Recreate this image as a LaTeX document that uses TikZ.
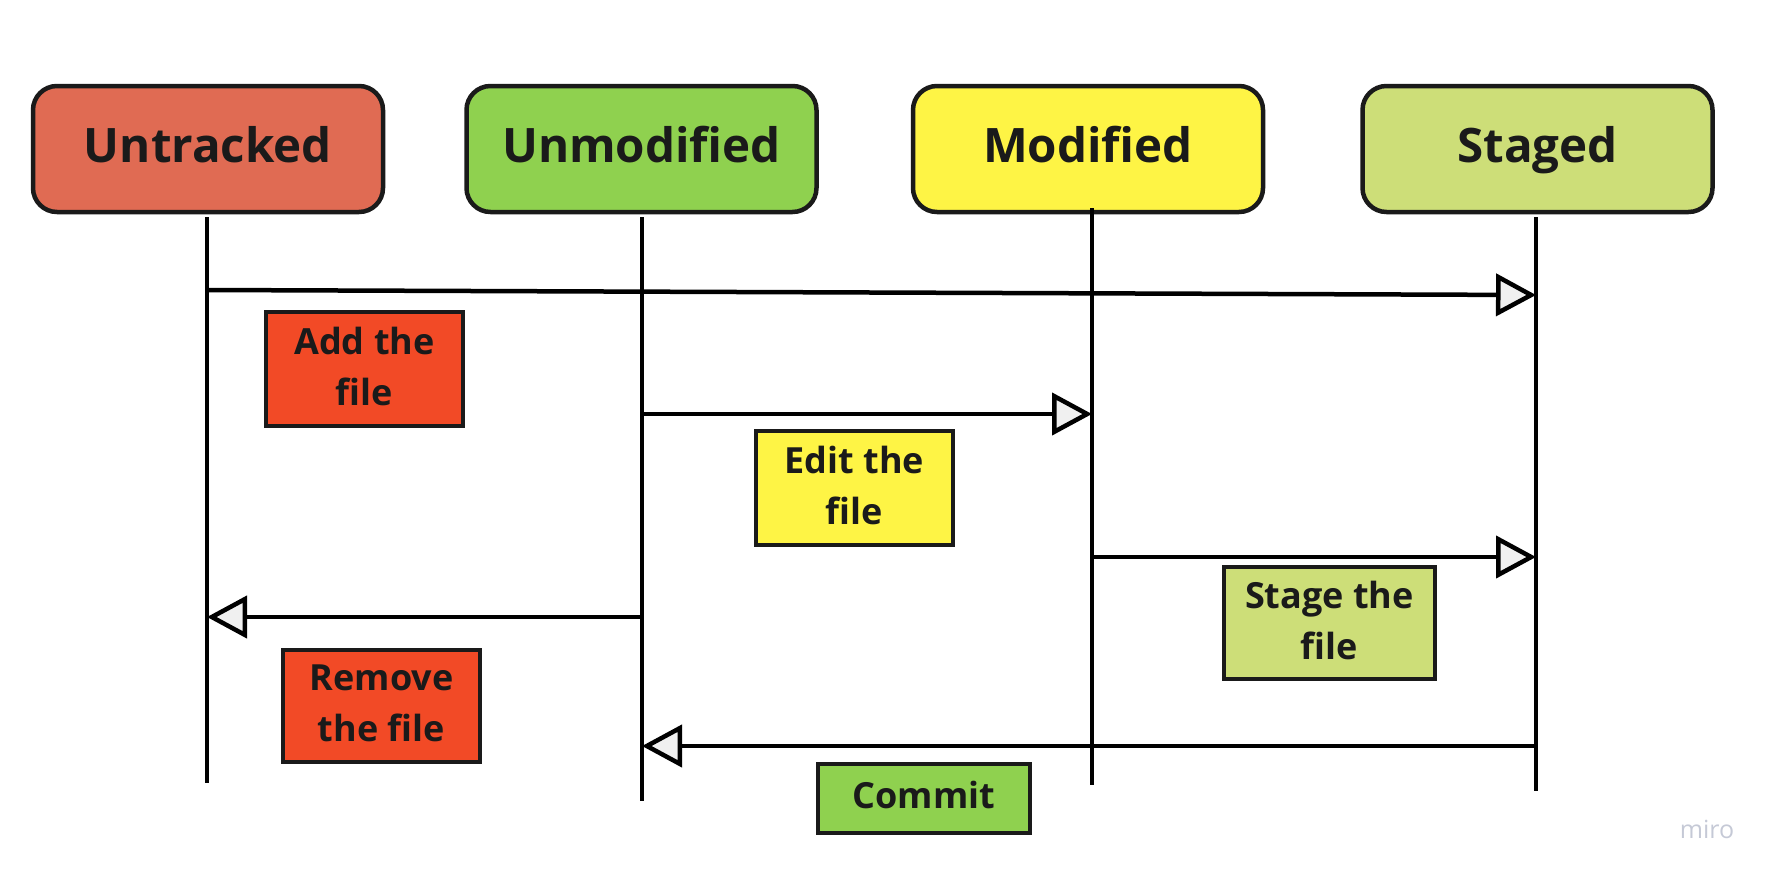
\documentclass[tikz,border=0pt]{standalone}
\usepackage{fontspec}
\setmainfont{Open Sans}
\usetikzlibrary{arrows.meta}
\definecolor{untr}{HTML}{E06B53}
\definecolor{unmod}{HTML}{8FD14F}
\definecolor{modi}{HTML}{FEF445}
\definecolor{stag}{HTML}{CDDE78}
\definecolor{redlab}{HTML}{F24A26}
\definecolor{ink}{HTML}{1A1A1A}
\definecolor{tipfill}{HTML}{F0F0F0}
\definecolor{wm}{HTML}{C5C9D6}
\tikzset{
  header/.style={draw=ink, line width=4.5pt, rounded corners=24pt, minimum width=350pt, minimum height=126pt, inner sep=0pt,
    text height=34pt, text depth=7pt,
    font=\fontsize{47.5}{52}\selectfont\bfseries, text=ink},
  lab/.style={draw=ink, line width=4pt, inner sep=0pt, align=center, text depth=6pt,
    font=\fontsize{36}{51}\selectfont\bfseries, text=ink},
  life/.style={line width=4.5pt, draw=black},
  msg/.style={line width=4.5pt, draw=black, -{Triangle[length=40pt,width=42pt,fill=tipfill]}},
}
\begin{document}
\begin{tikzpicture}[x=1pt,y=-1pt]
\useasboundingbox (0,0) rectangle (1775,879);
% headers
\node[header, fill=untr] (untracked) at (208,149) {Untracked};
\node[header, fill=unmod] (unmodified) at (641.5,149) {Unmodified};
\node[header, fill=modi] (modified) at (1088,149) {Modified};
\node[header, fill=stag] (staged) at (1537.5,149) {Staged};
% lifeline ends
\coordinate (u1) at (207,217); \coordinate (u2) at (207,783);
\coordinate (m1) at (642,217); \coordinate (m2) at (642,801);
\coordinate (d1) at (1092,208); \coordinate (d2) at (1092,785);
\coordinate (s1) at (1536,217); \coordinate (s2) at (1536,791);
\draw[life] (u1) -- (u2);
\draw[life] (m1) -- (m2);
\draw[life] (d1) -- (d2);
\draw[life] (s1) -- (s2);
% message anchors
\coordinate (a1s) at (207,290); \coordinate (a1e) at (1536,295);
\coordinate (a2s) at (642,414); \coordinate (a2e) at (1092,414);
\coordinate (a3s) at (1092,557); \coordinate (a3e) at (1536,557);
\coordinate (a4s) at (642,617); \coordinate (a4e) at (207,617);
\coordinate (a5s) at (1536,746); \coordinate (a5e) at (642,746);
\draw[msg] (a1s) -- (a1e);
\draw[msg] (a2s) -- (a2e);
\draw[msg] (a3s) -- (a3e);
\draw[msg] (a4s) -- (a4e);
\draw[msg] (a5s) -- (a5e);
% labels
\node[lab, fill=redlab, minimum width=197pt, minimum height=114pt] (add) at (364.5,369) {Add the\\file};
\node[lab, fill=modi, minimum width=197pt, minimum height=114pt] (edit) at (854.5,488) {Edit the\\file};
\node[lab, fill=stag, minimum width=211pt, minimum height=112pt] (stage) at (1329.5,623) {Stage the\\file};
\node[lab, fill=redlab, minimum width=197pt, minimum height=112pt] (remove) at (381.5,706) {Remove\\the file};
\node[lab, fill=unmod, minimum width=212pt, minimum height=69pt, text height=26pt, text depth=7pt] (commit) at (924,798.5) {Commit};
% watermark
\node[text=wm, font=\fontsize{25}{30}\selectfont] (miro) at (1707,829) {miro};
\end{tikzpicture}
\end{document}
